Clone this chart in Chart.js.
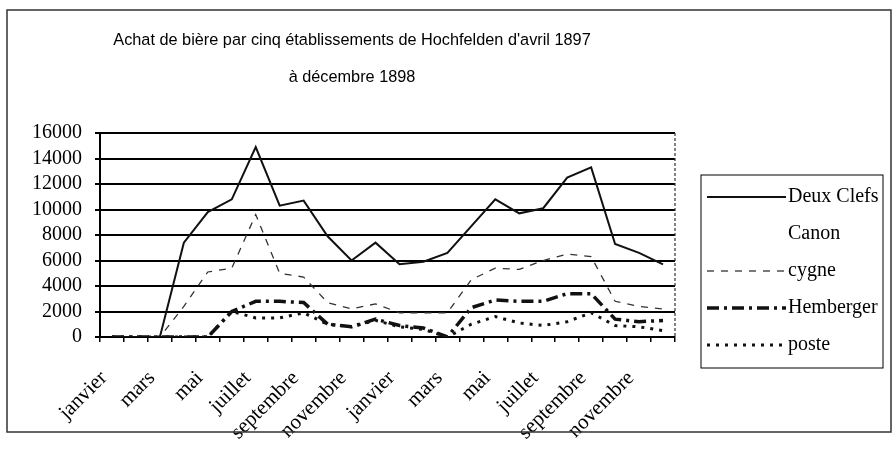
<!DOCTYPE html>
<html>
<head>
<meta charset="utf-8">
<script src="https://cdn.jsdelivr.net/npm/chart.js@4.4.0/dist/chart.umd.min.js"></script>
<style>
  html, body { margin: 0; padding: 0; background: #fff; }
  #wrap { width: 895px; height: 476px; }
</style>
</head>
<body>
<div id="wrap"><canvas id="chart" width="895" height="476"></canvas></div>
<script>
const mois = ["janvier", "février", "mars", "avril", "mai", "juin", "juillet", "août", "septembre", "octobre", "novembre", "décembre",
  "janvier", "février", "mars", "avril", "mai", "juin", "juillet", "août", "septembre", "octobre", "novembre", "décembre"];

const deuxClefs = [0, 0, 0, 7400, 9800, 10800, 14900, 10300, 10700, 7900, 6000, 7400,
  5700, 5900, 6600, 8700, 10800, 9700, 10100, 12500, 13300, 7300, 6600, 5700];
const canon = [];
const cygne = [0, 0, 0, 2400, 5100, 5400, 9600, 5000, 4700, 2700, 2200, 2600,
  1900, 1900, 1900, 4500, 5400, 5300, 6000, 6500, 6300, 2800, 2400, 2200];
const hemberger = [0, 0, 0, 0, 0, 2000, 2800, 2800, 2700, 1000, 800, 1400,
  900, 700, 0, 2300, 2900, 2800, 2800, 3400, 3400, 1400, 1200, 1300];
const poste = [0, 0, 0, 0, 0, 2000, 1500, 1500, 1900, 1000, 800, 1300,
  800, 600, 0, 1000, 1600, 1100, 900, 1200, 1900, 900, 800, 500];

const titre = ["Achat de bière par cinq établissements de Hochfelden d'avril 1897", "à décembre 1898"];

// cadre, titre, bord droit et légende dessinés à la main
const decor = {
  id: "decor",
  beforeDraw(chart) {
    const ctx = chart.ctx;
    ctx.save();
    ctx.fillStyle = "#fff";
    ctx.fillRect(0, 0, chart.width, chart.height);
    ctx.restore();
  },
  afterDraw(chart) {
    const ctx = chart.ctx;
    const a = chart.chartArea;
    ctx.save();

    ctx.strokeStyle = "#333";
    ctx.lineWidth = 1.5;
    ctx.strokeRect(7, 10, 884, 422);

    ctx.setLineDash([3, 2]);
    ctx.lineWidth = 1.2;
    ctx.beginPath();
    ctx.moveTo(a.right, a.top);
    ctx.lineTo(a.right, a.bottom);
    ctx.stroke();
    ctx.setLineDash([]);

    ctx.fillStyle = "#000";
    ctx.font = "16.3px 'Liberation Sans'";
    ctx.textAlign = "center";
    ctx.textBaseline = "middle";
    ctx.fillText(titre[0], 352, 41);
    ctx.fillText(titre[1], 352, 78);

    // légende
    ctx.lineWidth = 1;
    ctx.strokeStyle = "#000";
    ctx.strokeRect(701, 175, 182, 193);
    ctx.font = "20px 'Liberation Serif'";
    ctx.textAlign = "left";
    chart.data.datasets.forEach((ds, i) => {
      const y = 197 + i * 37;
      ctx.save();
      ctx.strokeStyle = ds.borderColor;
      ctx.lineWidth = ds.borderWidth;
      ctx.setLineDash(ds.borderDash || []);
      ctx.beginPath();
      ctx.moveTo(707, y);
      ctx.lineTo(786, y);
      ctx.stroke();
      ctx.restore();
      ctx.fillText(ds.label, 788, y);
    });
    ctx.restore();
  }
};

new Chart(document.getElementById("chart"), {
  type: "line",
  data: {
    labels: mois,
    datasets: [
      { label: "Deux Clefs", data: deuxClefs, borderColor: "#111", borderWidth: 2 },
      { label: "Canon", data: canon, borderColor: "rgba(0,0,0,0)", borderWidth: 1 },
      { label: "cygne", data: cygne, borderColor: "#333", borderWidth: 1.3, borderDash: [7, 7] },
      { label: "Hemberger", data: hemberger, borderColor: "#111", borderWidth: 3.5, borderDash: [12, 5, 3, 5] },
      { label: "poste", data: poste, borderColor: "#111", borderWidth: 3, borderDash: [3, 6] }
    ]
  },
  options: {
    responsive: false,
    animation: false,
    layout: { padding: { left: 0, right: 220, top: 133, bottom: 0 } },
    elements: { point: { radius: 0 }, line: { tension: 0 } },
    plugins: { legend: { display: false }, title: { display: false }, tooltip: { enabled: false } },
    scales: {
      x: {
        offset: true,
        grid: { drawOnChartArea: false, offset: true, color: "#000", lineWidth: 1.5, tickLength: 5 },
        border: { color: "#000", width: 2 },
        ticks: {
          autoSkip: false,
          maxRotation: 45,
          minRotation: 45,
          color: "#000",
          font: { family: "Liberation Serif", size: 21 },
          padding: 24,
          labelOffset: -8,
          callback: (v, i) => i % 2 === 0 ? mois[i] : ""
        },
        afterFit: s => { s.height = 139; }
      },
      y: {
        min: 0,
        max: 16000,
        ticks: {
          stepSize: 2000,
          autoSkip: false,
          color: "#000",
          font: { family: "Liberation Serif", size: 20 },
          padding: 13,
          callback: v => String(v)
        },
        grid: { color: "#000", lineWidth: 2, tickLength: 5 },
        border: { color: "#000", width: 2 },
        afterFit: s => { s.width = 100; }
      }
    }
  },
  plugins: [decor]
});
</script>
</body>
</html>
